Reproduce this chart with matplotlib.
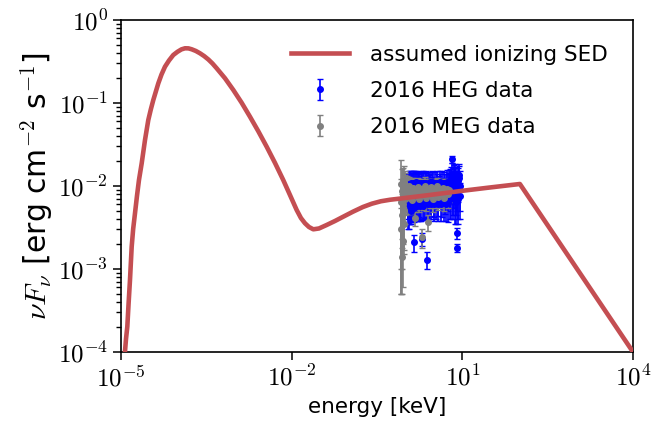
import numpy as np
import matplotlib
matplotlib.use("Agg")
import matplotlib.pyplot as plt
from matplotlib.ticker import NullLocator, LogLocator

plt.rcParams['font.family'] = ['DejaVu Sans']
plt.rcParams['mathtext.fontset'] = 'cm'

# assumed ionizing SED (log10 keV, log10 erg cm^-2 s^-1)
sed_log_energy = [-4.956, -4.930, -4.912, -4.889, -4.866, -4.842, -4.812, -4.786, -4.754,
                  -4.719, -4.684, -4.636, -4.578, -4.520, -4.476, -4.432, -4.344, -4.288,
                  -4.227, -4.156, -4.081, -4.007, -3.937, -3.875, -3.814, -3.757, -3.685,
                  -3.612, -3.538, -3.464, -3.392, -3.318, -3.172, -3.026, -2.880, -2.733,
                  -2.586, -2.439, -2.293, -2.148, -2.030, -1.912, -1.837, -1.766, -1.696,
                  -1.620, -1.520, -1.385, -1.239, -1.093, -0.923, -0.747, -0.589, -0.431,
                  -0.272, -0.097, 0.431, 1.011, 1.485, 2.012, 4.0]
sed_log_flux = [-4.217, -3.996, -3.843, -3.695, -3.410, -3.133, -2.731, -2.518, -2.329,
                -2.120, -1.928, -1.726, -1.446, -1.205, -1.078, -0.964, -0.763, -0.657,
                -0.563, -0.488, -0.422, -0.383, -0.354, -0.341, -0.342, -0.353, -0.373,
                -0.401, -0.435, -0.476, -0.524, -0.582, -0.702, -0.843, -0.996, -1.165,
                -1.341, -1.527, -1.722, -1.928, -2.108, -2.289, -2.386, -2.449, -2.494,
                -2.522, -2.512, -2.470, -2.422, -2.370, -2.310, -2.253, -2.213, -2.184,
                -2.166, -2.152, -2.108, -2.057, -2.018, -1.976, -4.0]

# 2016 MEG data
meg_energy = [0.83, 0.84, 0.85, 0.86, 0.87, 0.88, 0.89, 0.90, 0.91, 0.92, 0.93, 0.94, 0.95,
              0.96, 0.97, 0.98, 0.99, 1.00, 1.015, 1.03, 1.045, 1.06, 1.075, 1.09, 1.105,
              1.12, 1.135, 1.15, 1.17, 1.19, 1.21, 1.23, 1.25, 1.27, 1.29, 1.31, 1.335, 1.36,
              1.385, 1.41, 1.44, 1.47, 1.495, 1.52, 1.55, 1.58, 1.61, 1.64, 1.675, 1.71,
              1.745, 1.78, 1.82, 1.86, 1.895, 1.93, 1.98, 2.03, 2.075, 2.12, 2.17, 2.22,
              2.275, 2.33, 2.40, 2.48, 2.525, 2.57, 2.635, 2.70, 2.775, 2.85, 2.925, 3.00,
              3.085, 3.17, 3.26, 3.35, 3.45, 3.55, 3.66, 3.77, 3.885, 4.00, 4.125, 4.25,
              4.385, 4.52, 4.67, 4.82, 4.985, 5.15, 5.325, 5.50, 5.70, 5.90]
meg_flux = [0.0105, 0.0030, 0.0065, 0.0014, 0.0088, 0.0045, 0.0022, 0.0098, 0.0060, 0.0072,
            0.0035, 0.0112, 0.0080, 0.0052, 0.0100, 0.0090, 0.0070, 0.0102, 0.0085, 0.0078,
            0.0092, 0.0096, 0.0080, 0.0074, 0.0088, 0.0092, 0.0081, 0.0100, 0.0086, 0.0071,
            0.0089, 0.0093, 0.0078, 0.0084, 0.0094, 0.0068, 0.0087, 0.0095, 0.0076, 0.0080,
            0.0091, 0.0041, 0.0083, 0.0090, 0.0086, 0.0076, 0.0093, 0.0098, 0.0082, 0.0070,
            0.0090, 0.0088, 0.0081, 0.0079, 0.0092, 0.0024, 0.0084, 0.0092, 0.0078, 0.0083,
            0.0094, 0.0101, 0.0085, 0.0072, 0.0090, 0.0037, 0.0084, 0.0089, 0.0093, 0.0078,
            0.0086, 0.0096, 0.0080, 0.0069, 0.0088, 0.0090, 0.0079, 0.0082, 0.0093, 0.0099,
            0.0084, 0.0074, 0.0090, 0.0088, 0.0081, 0.0080, 0.0092, 0.0095, 0.0083, 0.0071,
            0.0089, 0.0086, 0.0093, 0.0079, 0.0087, 0.0090]
meg_err = [0.0100, 0.0025, 0.0055, 0.0009, 0.0070, 0.0035, 0.0016, 0.0065, 0.0040, 0.0050,
           0.0020, 0.0060, 0.0045, 0.0035, 0.0050, 0.0045, 0.0035, 0.0040, 0.0035, 0.0032,
           0.0033, 0.0035, 0.0030, 0.0028, 0.0030, 0.0030, 0.0029, 0.0030, 0.0030, 0.0025,
           0.0030, 0.0028, 0.0027, 0.0027, 0.0030, 0.0020, 0.0029, 0.0030, 0.0026, 0.0026,
           0.0029, 0.0008, 0.0028, 0.0028, 0.0029, 0.0025, 0.0029, 0.0028, 0.0027, 0.0022,
           0.0029, 0.0027, 0.0027, 0.0025, 0.0028, 0.0006, 0.0027, 0.0026, 0.0026, 0.0025,
           0.0028, 0.0028, 0.0027, 0.0022, 0.0028, 0.0008, 0.0027, 0.0026, 0.0028, 0.0024,
           0.0027, 0.0027, 0.0026, 0.0020, 0.0028, 0.0026, 0.0025, 0.0024, 0.0028, 0.0027,
           0.0027, 0.0022, 0.0028, 0.0026, 0.0026, 0.0024, 0.0028, 0.0027, 0.0026, 0.0021,
           0.0027, 0.0025, 0.0027, 0.0024, 0.0026, 0.0025]

# 2016 HEG data
heg_energy = [1.10, 1.12, 1.135, 1.15, 1.165, 1.18, 1.195, 1.21, 1.225, 1.24, 1.255, 1.27,
              1.285, 1.30, 1.32, 1.34, 1.365, 1.39, 1.405, 1.42, 1.44, 1.46, 1.48, 1.50,
              1.525, 1.55, 1.575, 1.60, 1.625, 1.65, 1.675, 1.70, 1.73, 1.76, 1.79, 1.82,
              1.85, 1.88, 1.905, 1.93, 1.975, 2.02, 2.06, 2.10, 2.14, 2.18, 2.225, 2.27,
              2.315, 2.36, 2.41, 2.46, 2.51, 2.56, 2.615, 2.67, 2.73, 2.79, 2.855, 2.92,
              2.985, 3.05, 3.125, 3.20, 3.275, 3.35, 3.435, 3.52, 3.61, 3.70, 3.80, 3.90,
              4.00, 4.10, 4.21, 4.32, 4.435, 4.55, 4.675, 4.80, 4.925, 5.05, 5.175, 5.30,
              5.425, 5.55, 5.675, 5.80, 5.925, 6.05, 6.175, 6.30, 6.45, 6.60, 6.70, 6.80,
              6.925, 7.05, 7.175, 7.30, 7.425, 7.55, 7.675, 7.80, 7.90, 8.00, 8.10, 8.20,
              8.30, 8.425, 8.55, 8.675, 8.80, 8.925, 9.05]
heg_flux = [0.0090, 0.0085, 0.0065, 0.0060, 0.0105, 0.0100, 0.0055, 0.0070, 0.0095, 0.0110,
            0.0062, 0.0050, 0.0100, 0.0095, 0.0058, 0.0075, 0.0108, 0.0021, 0.0060, 0.0105,
            0.0055, 0.0065, 0.0110, 0.0090, 0.0060, 0.0112, 0.0085, 0.0058, 0.0106, 0.0098,
            0.0060, 0.0072, 0.0104, 0.0108, 0.0058, 0.0062, 0.0110, 0.0094, 0.0060, 0.0023,
            0.0102, 0.0110, 0.0057, 0.0066, 0.0108, 0.0090, 0.0062, 0.0104, 0.0110, 0.0013,
            0.0064, 0.0060, 0.0106, 0.0096, 0.0062, 0.0112, 0.0100, 0.0068, 0.0060, 0.0092,
            0.0112, 0.0106, 0.0060, 0.0064, 0.0108, 0.0088, 0.0062, 0.0110, 0.0100, 0.0070,
            0.0060, 0.0095, 0.0112, 0.0100, 0.0060, 0.0066, 0.0110, 0.0090, 0.0062, 0.0108,
            0.0100, 0.0072, 0.0060, 0.0098, 0.0112, 0.0085, 0.0062, 0.0112, 0.0100, 0.0070,
            0.0110, 0.0120, 0.0085, 0.0210, 0.0140, 0.0095, 0.0075, 0.0130, 0.0110, 0.0080,
            0.0120, 0.0140, 0.0095, 0.0065, 0.0120, 0.0027, 0.0018, 0.0100, 0.0115, 0.0070,
            0.0090, 0.0125, 0.0135, 0.0100, 0.0075]
heg_err = [0.0050, 0.0055, 0.0030, 0.0030, 0.0045, 0.0050, 0.0020, 0.0035, 0.0040, 0.0040,
           0.0025, 0.0015, 0.0045, 0.0045, 0.0020, 0.0035, 0.0042, 0.0005, 0.0022, 0.0045,
           0.0018, 0.0025, 0.0040, 0.0040, 0.0020, 0.0038, 0.0035, 0.0020, 0.0040, 0.0040,
           0.0022, 0.0030, 0.0040, 0.0040, 0.0020, 0.0022, 0.0040, 0.0038, 0.0022, 0.0004,
           0.0040, 0.0042, 0.0018, 0.0025, 0.0040, 0.0040, 0.0022, 0.0040, 0.0040, 0.0003,
           0.0022, 0.0020, 0.0040, 0.0040, 0.0022, 0.0036, 0.0040, 0.0024, 0.0020, 0.0038,
           0.0040, 0.0040, 0.0022, 0.0022, 0.0040, 0.0036, 0.0022, 0.0040, 0.0040, 0.0026,
           0.0022, 0.0038, 0.0040, 0.0040, 0.0022, 0.0024, 0.0040, 0.0036, 0.0024, 0.0040,
           0.0040, 0.0026, 0.0022, 0.0040, 0.0042, 0.0035, 0.0025, 0.0045, 0.0045, 0.0030,
           0.0050, 0.0050, 0.0045, 0.0020, 0.0050, 0.0050, 0.0035, 0.0050, 0.0055, 0.0045,
           0.0050, 0.0045, 0.0050, 0.0030, 0.0050, 0.0004, 0.0002, 0.0050, 0.0050, 0.0035,
           0.0050, 0.0050, 0.0050, 0.0050, 0.0035]

x_ticks = [1e-5, 1e-2, 1e1, 1e4]
x_tick_labels = [r'$10^{-5}$', r'$10^{-2}$', r'$10^{1}$', r'$10^{4}$']
y_ticks = [1e-4, 1e-3, 1e-2, 1e-1, 1e0]
y_tick_labels = [r'$10^{-4}$', r'$10^{-3}$', r'$10^{-2}$', r'$10^{-1}$', r'$10^{0}$']

fig, ax = plt.subplots(figsize=(6.67, 4.28), dpi=100)
fig.subplots_adjust(left=0.1814, right=0.949, top=0.9533, bottom=0.1776)

heg = ax.errorbar(heg_energy, heg_flux, yerr=heg_err, fmt='o', color='blue', ms=4,
                  elinewidth=1.2, capsize=2, label='2016 HEG data')
meg = ax.errorbar(meg_energy, meg_flux, yerr=meg_err, fmt='o', color='gray', ms=4,
                  elinewidth=1.2, capsize=2, label='2016 MEG data')
sed, = ax.plot(10 ** np.array(sed_log_energy), 10 ** np.array(sed_log_flux),
               color='#c44e52', lw=3.3, zorder=4, label='assumed ionizing SED',
               solid_joinstyle='round')

ax.set_xscale('log')
ax.set_yscale('log')
ax.set_xlim(1e-5, 1e4)
ax.set_ylim(1e-4, 1e0)
ax.set_xticks(x_ticks)
ax.set_xticklabels(x_tick_labels)
ax.xaxis.set_minor_locator(NullLocator())
ax.set_yticks(y_ticks)
ax.set_yticklabels(y_tick_labels)
ax.yaxis.set_minor_locator(LogLocator(base=10, subs=np.arange(2, 10)))
ax.yaxis.set_minor_formatter(plt.NullFormatter())
ax.tick_params(which='major', direction='out', length=6, width=1.1, labelsize=18)
ax.tick_params(which='minor', direction='out', length=3.5, width=1)
for s in ax.spines.values():
    s.set_linewidth(1.2)

ax.set_xlabel('energy [keV]', fontsize=15.5)
ax.set_ylabel(r'$\nu F_\nu$ [erg cm$^{-2}$ s$^{-1}$]', fontsize=21.5, labelpad=2)

ax.legend([sed, heg, meg], ['assumed ionizing SED', '2016 HEG data', '2016 MEG data'],
          loc='upper right', frameon=False, fontsize=15.5, handlelength=2.7,
          handletextpad=1.0, labelspacing=0.75, borderaxespad=0.75)

fig.savefig('out.png', dpi=100)
